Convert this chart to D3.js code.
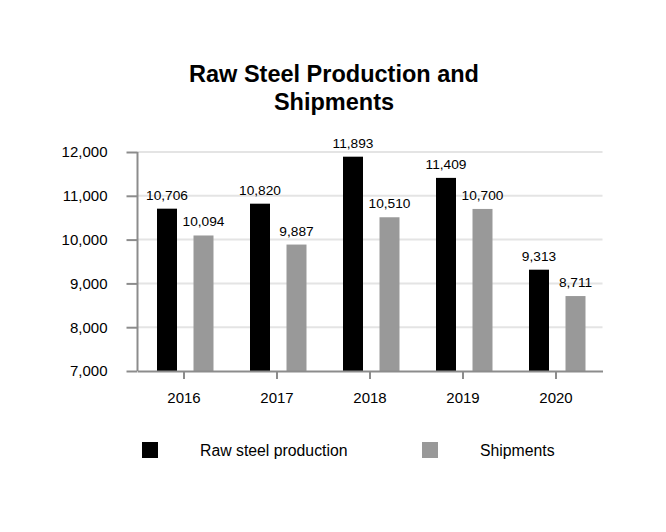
<!DOCTYPE html>
<html>
<head>
<meta charset="utf-8">
<script src="https://cdn.jsdelivr.net/npm/d3@7"></script>
<style>
  body { margin: 0; background: #fff; }
  text { font-family: "Liberation Sans", Arial, sans-serif; fill: #000; }
</style>
</head>
<body>
<svg id="chart" width="666" height="532"></svg>
<script>
// data
var years = ["2016", "2017", "2018", "2019", "2020"];
var rawSteel = [10706, 10820, 11893, 11409, 9313];
var shipments = [10094, 9887, 10510, 10700, 8711];
var yTicks = [7000, 8000, 9000, 10000, 11000, 12000];
var seriesNames = ["Raw steel production", "Shipments"];
var seriesColors = ["#000000", "#999999"];

var svg = d3.select("#chart");
var plotLeft = 137.5, plotRight = 602.5, plotTop = 152, plotBottom = 371;

// title
svg.append("text").attr("x", 334).attr("y", 82)
    .attr("text-anchor", "middle").style("font-size", "23.5px").style("font-weight", "bold")
    .text("Raw Steel Production and");
svg.append("text").attr("x", 334).attr("y", 110)
    .attr("text-anchor", "middle").style("font-size", "23.5px").style("font-weight", "bold")
    .text("Shipments");

// scales
var x = d3.scaleBand().domain(years).range([plotLeft, plotRight]);
var y = d3.scaleLinear().domain([7000, 12000]).range([plotBottom, plotTop]);

// gridlines
svg.append("g").selectAll("line")
    .data(yTicks.slice(1))
    .enter().append("line")
    .attr("x1", plotLeft).attr("x2", plotRight)
    .attr("y1", function(d) { return y(d); })
    .attr("y2", function(d) { return y(d); })
    .attr("stroke", "#e4e4e4").attr("stroke-width", 2);

// bars
var series = [rawSteel, shipments];
var offsets = [-17, 19.5];
series.forEach(function(vals, s) {
    var g = svg.append("g");
    g.selectAll("rect")
        .data(vals)
        .enter().append("rect")
        .attr("x", function(d, i) { return x(years[i]) + x.bandwidth() / 2 + offsets[s] - 10; })
        .attr("width", 20)
        .attr("y", function(d) { return y(d); })
        .attr("height", function(d) { return y(7000) - y(d); })
        .attr("fill", seriesColors[s]);
    g.selectAll("text")
        .data(vals)
        .enter().append("text")
        .attr("x", function(d, i) { return x(years[i]) + x.bandwidth() / 2 + offsets[s]; })
        .attr("y", function(d) { return y(d) - 9; })
        .attr("text-anchor", "middle")
        .style("font-size", "13.7px")
        .text(function(d) { return d3.format(",")(d); });
});

// y axis
var yAxis = d3.axisLeft(y).tickValues(yTicks).tickFormat(d3.format(",")).tickSize(11).tickPadding(19);
var yg = svg.append("g").attr("transform", "translate(" + plotLeft + ",0)").call(yAxis);
yg.select(".domain").attr("stroke", "#8c8c8c").attr("stroke-width", 2).attr("d", "M0," + plotTop + "V" + plotBottom);
yg.selectAll(".tick line").attr("stroke", "#8c8c8c").attr("stroke-width", 2);
yg.selectAll(".tick text").style("font-size", "15px").style("font-family", "Liberation Sans, Arial, sans-serif").attr("fill", "#000");

// x axis
var xAxis = d3.axisBottom(x).tickSize(8).tickPadding(13).tickSizeOuter(0);
var xg = svg.append("g").attr("transform", "translate(0," + plotBottom + ")").call(xAxis);
xg.select(".domain").attr("stroke", "#8c8c8c").attr("stroke-width", 2);
xg.selectAll(".tick line").attr("stroke", "#8c8c8c").attr("stroke-width", 2);
xg.selectAll(".tick text").style("font-size", "15px").style("font-family", "Liberation Sans, Arial, sans-serif").attr("fill", "#000");

// legend
var legendX = [142, 422];
var legendTextX = [200, 480];
seriesNames.forEach(function(name, i) {
    svg.append("rect").attr("x", legendX[i]).attr("y", 442)
        .attr("width", 16).attr("height", 16).attr("fill", seriesColors[i]);
    svg.append("text").attr("x", legendTextX[i]).attr("y", 456)
        .style("font-size", "15.8px").text(name);
});
</script>
</body>
</html>
